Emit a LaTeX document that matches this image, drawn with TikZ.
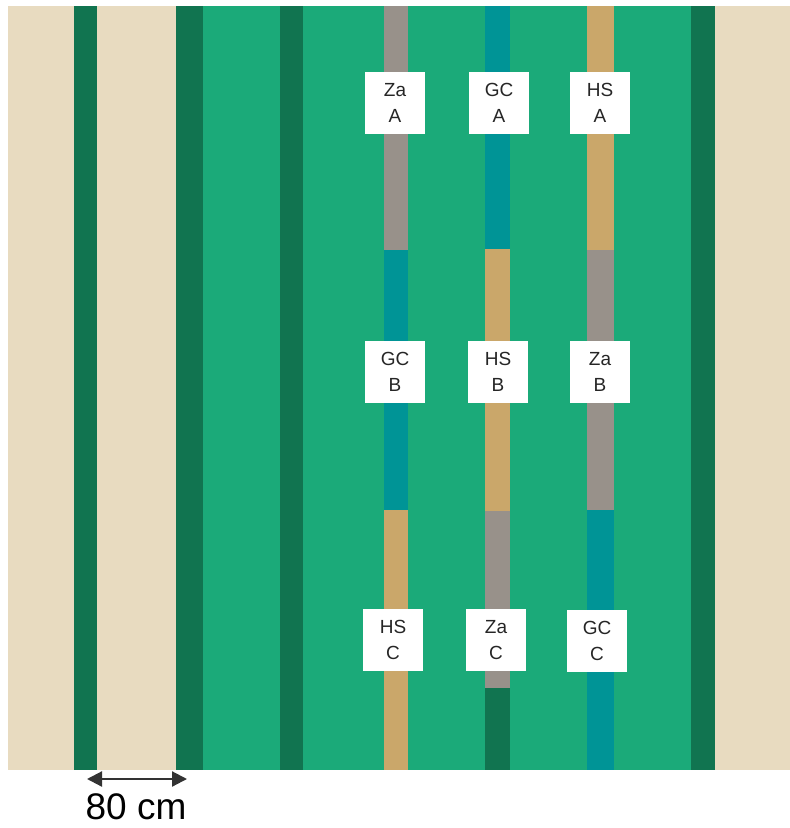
\documentclass[tikz,border=0pt]{standalone}
\usepackage{fontspec}
\setmainfont{Liberation Sans}
\usepackage{xcolor}
\usetikzlibrary{positioning,arrows.meta}
\definecolor{sand}{RGB}{232,219,192}
\definecolor{darkrow}{RGB}{17,116,80}
\definecolor{bed}{RGB}{27,170,121}
\definecolor{zagray}{RGB}{152,145,138}
\definecolor{gcteal}{RGB}{0,148,150}
\definecolor{hstan}{RGB}{202,167,106}
\tikzset{
  lbl/.style={fill=white, minimum width=60pt, minimum height=62pt, inner sep=0pt, align=center, text=black!85, font=\fontsize{19}{26}\selectfont},
  dim/.style={{Triangle[length=15pt,width=15pt]}-{Triangle[length=15pt,width=15pt]}, line width=2.2pt, draw=black!80},
  dimtext/.style={font=\fontsize{37}{40}\selectfont, inner sep=0pt, anchor=base}
}
\begin{document}
\begin{tikzpicture}[x=1pt,y=-1pt]
  \useasboundingbox (0,0) rectangle (790,828);
  % field
  \fill[sand] (8,6) rectangle (790,770);
  \fill[bed] (176,6) rectangle (715,770);
  \fill[darkrow] (74,6) rectangle (97,770);
  \fill[darkrow] (176,6) rectangle (203,770);
  \fill[darkrow] (280,6) rectangle (303,770);
  \fill[darkrow] (691,6) rectangle (715,770);
  % plot strips
  \fill[zagray] (384,6) rectangle (408,250);
  \fill[gcteal] (384,250) rectangle (408,510);
  \fill[hstan] (384,510) rectangle (408,770);
  \fill[gcteal] (485,6) rectangle (510,249);
  \fill[hstan] (485,249) rectangle (510,511);
  \fill[zagray] (485,511) rectangle (510,688);
  \fill[darkrow] (485,688) rectangle (510,770);
  \fill[hstan] (587,6) rectangle (614,250);
  \fill[zagray] (587,250) rectangle (614,510);
  \fill[gcteal] (587,510) rectangle (614,770);
  % labels
  \node[lbl] (zaA) at (395,103) {Za\\A};
  \node[lbl] (gcA) at (499,103) {GC\\A};
  \node[lbl] (hsA) at (600,103) {HS\\A};
  \node[lbl] (gcB) at (395,372) {GC\\B};
  \node[lbl] (hsB) at (498,372) {HS\\B};
  \node[lbl] (zaB) at (600,372) {Za\\B};
  \node[lbl] (hsC) at (393,640) {HS\\C};
  \node[lbl] (zaC) at (496,640) {Za\\C};
  \node[lbl] (gcC) at (597,641) {GC\\C};
  % width
  \coordinate (wl) at (87,779);
  \coordinate (wr) at (187,779);
  \draw[dim] (wl) -- (wr);
  \node[dimtext] (wtxt) at (136,819) {80 cm};
\end{tikzpicture}
\end{document}
